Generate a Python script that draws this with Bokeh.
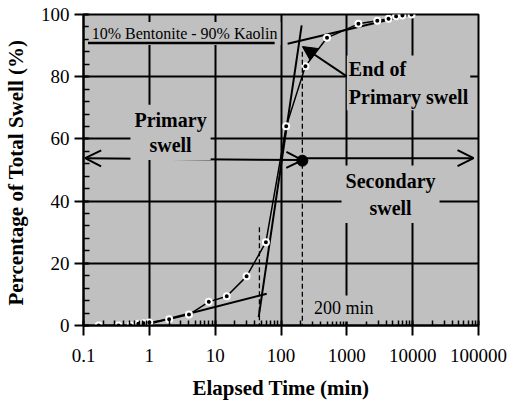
from bokeh.plotting import figure
from bokeh.models import (Label, Arrow, OpenHead, NormalHead, FixedTicker,
                          SingleIntervalTicker)
from bokeh.embed import file_html
from bokeh.resources import INLINE

# ---- data ----
time_min = [0.17, 0.34, 0.52, 0.68, 0.82, 1.0, 2.0, 4.0, 8.0, 15, 30, 59,
            120, 235, 500, 1500, 2900, 4300, 5600, 7000, 9600]
swell_pct = [0, 0, 0, 0.6, 0.7, 1.0, 2.0, 3.5, 7.6, 9.4, 15.8, 26.8,
             64.1, 83.4, 92.5, 97, 98, 98.6, 99.4, 99.7, 100]

# construction lines
tangent_low_t = [0.9, 60.7]
tangent_low_s = [0.3, 10.2]
tangent_steep_t = [45.8, 206]
tangent_steep_s = [2.7, 96.5]
tangent_high_t = [126, 9400]
tangent_high_s = [90.6, 100]

end_primary_t = 211       # end of primary swell (min)
end_primary_s = 53.0
start_t = 47              # lower dashed line (min)

x_ticks = [0.1, 1, 10, 100, 1000, 10000, 100000]
x_tick_labels = ["0.1", "1", "10", "100", "1000", "10000", "100000"]
x_minor = [m * d for d in [0.1, 1, 10, 100, 1000, 10000] for m in range(2, 10)]

SERIF = "'Liberation Serif', 'Times New Roman', serif"
GREY = "#c0c0c0"

p = figure(width=509, height=408, x_axis_type="log",
           x_range=(0.1, 100000), y_range=(0, 100),
           output_backend="svg", toolbar_location=None,
           min_border_left=76, min_border_right=31,
           min_border_top=14, min_border_bottom=83)

p.background_fill_color = GREY
p.border_fill_color = "white"
p.outline_line_color = "black"
p.outline_line_width = 2

# axes
p.xaxis.ticker = FixedTicker(ticks=x_ticks, minor_ticks=x_minor)
p.xaxis.major_label_overrides = {t: l for t, l in zip(x_ticks, x_tick_labels)}
p.yaxis.ticker = SingleIntervalTicker(interval=20, num_minor_ticks=5)

for ax in (p.xaxis, p.yaxis):
    ax.axis_line_width = 2
    ax.axis_line_color = "black"
    ax.major_tick_line_width = 2
    ax.minor_tick_line_width = 1.5
    ax.major_tick_line_color = "black"
    ax.minor_tick_line_color = "black"
    ax.major_label_text_font = SERIF
    ax.major_label_text_font_size = "19px"
    ax.major_label_text_color = "black"
    ax.axis_label_text_font = SERIF
    ax.axis_label_text_font_style = "bold"
    ax.axis_label_text_font_size = "21px"
    ax.axis_label_text_color = "black"

p.xaxis.major_tick_in = 5
p.xaxis.major_tick_out = 10
p.xaxis.minor_tick_in = 5
p.xaxis.minor_tick_out = 0
p.xaxis.major_label_standoff = 13
p.xaxis.axis_label = "Elapsed Time (min)"
p.xaxis.axis_label_standoff = 11

p.yaxis.major_tick_in = 5
p.yaxis.major_tick_out = 9
p.yaxis.minor_tick_in = 6
p.yaxis.minor_tick_out = 0
p.yaxis.major_label_standoff = 5
p.yaxis.axis_label = "Percentage of  Total Swell (%)"
p.yaxis.axis_label_standoff = 10

p.xgrid.grid_line_color = "black"
p.xgrid.grid_line_width = 2
p.ygrid.grid_line_color = "black"
p.ygrid.grid_line_width = 2

# construction lines
p.line(tangent_low_t, tangent_low_s, line_color="black", line_width=2)
p.line(tangent_steep_t, tangent_steep_s, line_color="black", line_width=2)
p.line(tangent_high_t, tangent_high_s, line_color="black", line_width=2)

# data
p.line(time_min, swell_pct, line_color="black", line_width=1.5)
p.scatter(time_min, swell_pct, size=6, fill_color="black",
          line_color="white", line_width=2)
p.scatter([end_primary_t], [end_primary_s], size=11, color="black")

# dashed verticals
p.add_layout(Arrow(end=None, x_start=start_t, y_start=31.6, x_end=start_t,
                   y_end=-5.5, line_dash="5 3", line_width=1.3,
                   line_color="black"))
p.add_layout(Arrow(end=None, x_start=end_primary_t, y_start=88,
                   x_end=end_primary_t, y_end=-7, line_dash="5 3",
                   line_width=1.3, line_color="black"))

# double arrows
p.add_layout(Arrow(start=OpenHead(size=16, line_width=2, line_color="black"),
                   end=OpenHead(size=16, line_width=2, line_color="black"),
                   x_start=0.106, y_start=53.8, x_end=end_primary_t,
                   y_end=53.2, line_width=2, line_color="black"))
p.add_layout(Arrow(end=OpenHead(size=16, line_width=2, line_color="black"),
                   x_start=end_primary_t, y_start=53.8, x_end=84100,
                   y_end=53.8, line_width=2, line_color="black"))

# text labels with grey boxes (interrupt the grid)
def add_label(x, y, text, align="center", bold=True, size="20px", pad=4,
              lh=1.25):
    p.add_layout(Label(x=x, y=y, text=text, text_align=align,
                       text_baseline="middle", text_font=SERIF,
                       text_font_style="bold" if bold else "normal",
                       text_font_size=size, text_color="black",
                       text_line_height=lh,
                       background_fill_color=GREY, padding=pad))

add_label(0.120, 93.9, "10% Bentonite - 90% Kaolin", align="left",
          bold=False, size="16px", pad=3)
add_label(2.1, 62.1, "Primary\nswell", lh=1.15)
add_label(4610, 42.2, "Secondary\nswell", lh=1.25)
add_label(1000, 78.0, "End of\nPrimary swell", align="left", lh=1.3, pad=2)
add_label(286, 5.5, "200 min", align="left", bold=False, size="18px", pad=3)

# underline of the title box
p.add_layout(Arrow(end=None, x_start=0.117, y_start=90.8, x_end=80,
                   y_end=90.8, line_width=2.5, line_color="black"))

# "End of Primary swell" pointer
p.add_layout(Arrow(end=NormalHead(size=14, fill_color="black",
                                  line_color="black"),
                   x_start=1000, y_start=80.1, x_end=211, y_end=89.7,
                   line_width=2, line_color="black"))

open("out.html", "w").write(file_html(p, INLINE))
